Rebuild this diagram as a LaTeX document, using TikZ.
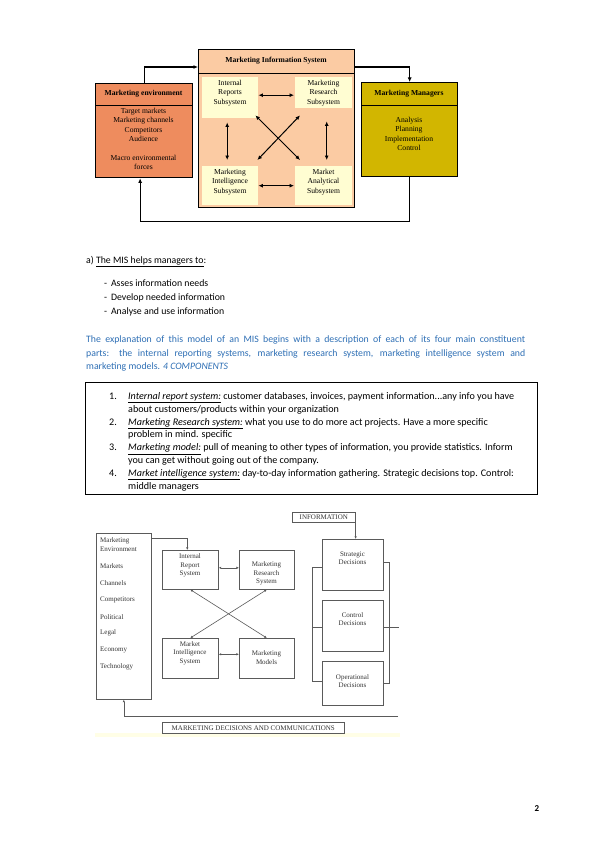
\documentclass[tikz,border=0pt]{standalone}
\usepackage{fontspec}
\setmainfont{Carlito}
\newfontfamily\tnr{Liberation Serif}
\usetikzlibrary{calc,arrows.meta,shadows}
\definecolor{misfill}{HTML}{FBCBA3}
\definecolor{subfill}{HTML}{FFFDD2}
\definecolor{envfill}{HTML}{EE8C5E}
\definecolor{mgrfill}{HTML}{D2B600}
\definecolor{blutxt}{HTML}{2E6FB5}
\definecolor{dgray}{HTML}{5A5A5A}
\tikzset{
 topbox/.style={draw=black, line width=1.3pt, inner sep=0pt, anchor=north west},
 subbox/.style={fill=subfill, draw=none, inner sep=0pt, anchor=north west},
 ttxt/.style={font=\tnr\fontsize{7.6}{9.4}\selectfont, align=center, inner sep=0pt},
 ttitle/.style={font=\tnr\bfseries\fontsize{7.6}{9}\selectfont, inner sep=0pt},
 sepline/.style={line width=0.8pt},
 tarrow/.style={-{Latex[length=4.5pt,width=4pt]}, line width=1.1pt},
 tdarrow/.style={{Latex[length=4.5pt,width=4pt]}-{Latex[length=4.5pt,width=4pt]}, line width=1pt},
 bbox/.style={draw=dgray, line width=0.6pt, fill=white, inner sep=0pt, anchor=north west,
   drop shadow={shadow xshift=1pt, shadow yshift=-1pt, fill=gray!70, opacity=0.6}},
 btxt/.style={font=\tnr\fontsize{7}{8.5}\selectfont, text=black!80, align=center, inner sep=0pt},
 bltxt/.style={font=\tnr\fontsize{7}{8.5}\selectfont, text=black!80, anchor=west, inner sep=0pt},
 bline/.style={draw=dgray, line width=0.6pt},
 barrow/.style={bline, -{Latex[length=2.6pt,width=2.4pt]}},
 bdarrow/.style={bline, {Latex[length=2.6pt,width=2.4pt]}-{Latex[length=2.6pt,width=2.4pt]}},
 body/.style={font=\fontsize{9.8}{12}\selectfont, anchor=base west, inner sep=0pt},
 lbody/.style={font=\fontsize{10.1}{12}\selectfont, anchor=base west, inner sep=0pt},
}
\begin{document}
\begin{tikzpicture}[x=1pt,y=-1pt]
\useasboundingbox[fill=white] (0,0) rectangle (600,848);

% ---------------- top diagram ----------------
\node[topbox, fill=misfill, minimum width=156pt, minimum height=158pt] (mis) at (198,49) {};
\draw[sepline] (mis.west |- 0,73) -- (mis.east |- 0,73);
\node[ttitle] (mistitle) at (276,61) {Marketing Information System};
\node[subbox, minimum width=56pt, minimum height=41pt] (int) at (202,77) {};
\node[subbox, minimum width=57pt, minimum height=31pt] (res) at (295,77) {};
\node[subbox, minimum width=56pt, minimum height=39pt] (intel) at (202,166) {};
\node[subbox, minimum width=57pt, minimum height=39pt] (ana) at (295,166) {};
\node[ttxt] (intt) at (230,93) {Internal\\Reports\\Subsystem};
\node[ttxt] (rest) at (323.5,93) {Marketing\\Research\\Subsystem};
\node[ttxt] (intelt) at (230,182) {Marketing\\Intelligence\\Subsystem};
\node[ttxt] (anat) at (323.5,182) {Market\\Analytical\\Subsystem};
\draw[tdarrow] ($(int.east)+(0,-2.5)$) -- ($(int.east -| res.west)+(-1,-2.5)$);
\draw[tdarrow] (intel.east) -- ($(intel.east -| ana.west)+(-1,0)$);
\draw[tdarrow] ($(int.south)+(-3,4)$) -- ($(intel.north)+(-3,-6)$);
\draw[tdarrow] ($(res.south)+(3,13)$) -- ($(ana.north)+(3,-6)$);
\draw[tdarrow] ($(int.south east)+(-3,-3)$) -- ($(ana.north west)+(5,-6)$);
\draw[tdarrow] ($(res.south west)+(5,7)$) -- ($(intel.north east)+(-1,-6)$);

\node[topbox, fill=envfill, minimum width=97pt, minimum height=94pt] (env) at (95,83) {};
\draw[sepline] (env.west |- 0,105) -- (env.east |- 0,105);
\node[ttitle] (envt) at (143.5,93.5) {Marketing environment};
\node[ttxt] (envb) at (143.5,139) {Target markets\\Marketing channels\\Competitors\\Audience\\[9.4pt]Macro environmental\\forces};

\node[topbox, fill=mgrfill, minimum width=96pt, minimum height=94pt] (mgr) at (361,82) {};
\draw[sepline] (mgr.west |- 0,105) -- (mgr.east |- 0,105);
\node[ttitle] (mgrt) at (409,93.5) {Marketing Managers};
\node[ttxt] (mgrb) at (409,134) {Analysis\\Planning\\Implementation\\Control};

\draw[tarrow] (env.north) |- ($(mis.north west)+(0,18)$);
\draw[tarrow] ($(mis.north east)+(0,18)$) -| (mgr.north);
\draw[tarrow] (mgr.south) -- ++(0,44) -| ($(env.south)+(-4,0)$);

% ---------------- text ----------------
\node[body] (la) at (86,263) {a) \underline{The MIS helps managers to}:};
\node[body] (b1) at (104,286) {-\, Asses information needs};
\node[body] (b2) at (104,300) {-\, Develop needed information};
\node[body] (b3) at (104,314) {-\, Analyse and use information};

\node[body, text=blutxt] (p1) at (86,342) {\makebox[439pt][s]{The explanation of this model of an MIS begins with a description of each of its four main constituent}};
\node[body, text=blutxt] (p2) at (86,356) {\makebox[439pt][s]{parts: the internal reporting systems, marketing research system, marketing intelligence system and}};
\node[body, text=blutxt] (p3) at (86,369.5) {marketing models. \textit{4 COMPONENTS}};

\node[draw=black, line width=1pt, anchor=north west, minimum width=452pt, minimum height=112pt, inner sep=0pt] (lbox) at (85,382) {};
\node[lbody] (n1) at (109,399.5) {1.};
\node[lbody] (t1) at (128,399.5) {\underline{\textit{Internal report system:}} customer databases, invoices, payment information...any info you have};
\node[lbody] (t1b) at (128,412.3) {about customers/products within your organization};
\node[lbody] (n2) at (109,425.1) {2.};
\node[lbody] (t2) at (128,425.1) {\underline{\textit{Marketing Research system:}} what you use to do more act projects. Have a more specific};
\node[lbody] (t2b) at (128,437.9) {problem in mind. specific};
\node[lbody] (n3) at (109,450.7) {3.};
\node[lbody] (t3) at (128,450.7) {\underline{\textit{Marketing model:}} pull of meaning to other types of information, you provide statistics. Inform};
\node[lbody] (t3b) at (128,463.5) {you can get without going out of the company.};
\node[lbody] (n4) at (109,476.3) {4.};
\node[lbody] (t4) at (128,476.3) {\underline{\textit{Market intelligence system:}} day-to-day information gathering. Strategic decisions top. Control:};
\node[lbody] (t4b) at (128,489.1) {middle managers};

% ---------------- bottom diagram ----------------
\fill[yellow!10] (95,733) rectangle (400,737);
\node[bbox, minimum width=55pt, minimum height=166pt] (lef) at (96,533) {};
\node[bbox, minimum width=56pt, minimum height=39pt] (irs) at (162,550) {};
\node[bbox, minimum width=55pt, minimum height=39pt] (mrs) at (239,550) {};
\node[bbox, minimum width=56pt, minimum height=40pt] (mis2) at (162,638) {};
\node[bbox, minimum width=55pt, minimum height=40pt] (mm) at (239,638) {};
\node[bbox, minimum width=61pt, minimum height=51pt] (sd) at (322,539) {};
\node[bbox, minimum width=61pt, minimum height=51pt] (cd) at (322,600) {};
\node[bbox, minimum width=61pt, minimum height=44pt] (od) at (322,661) {};
\node[bbox, minimum width=63pt, minimum height=10pt] (info) at (292,512) {};
\node[bbox, minimum width=182pt, minimum height=11pt] (mdc) at (162,722) {};

\node[btxt] (irst) at (190,565.5) {Internal\\Report\\System};
\node[btxt] (mrst) at (266.5,573.5) {Marketing\\Research\\System};
\node[btxt] (mis2t) at (190,653) {Market\\Intelligence\\System};
\node[btxt] (mmt) at (266.5,657.5) {Marketing\\Models};
\node[btxt] (sdt) at (352.5,558) {Strategic\\Decisions};
\node[btxt] (cdt) at (352.5,619) {Control\\Decisions};
\node[btxt] (odt) at (352.5,681) {Operational\\Decisions};
\node[btxt] (infot) at (info.center) {INFORMATION};
\node[btxt] (mdct) at (mdc.center) {MARKETING DECISIONS AND COMMUNICATIONS};

\node[bltxt] (e1) at (100,541) {Marketing};
\node[bltxt] (e2) at (100,549) {Environment};
\node[bltxt] (e3) at (100,566) {Markets};
\node[bltxt] (e4) at (100,583) {Channels};
\node[bltxt] (e5) at (100,600) {Competitors};
\node[bltxt] (e6) at (100,617) {Political};
\node[bltxt] (e7) at (100,633) {Legal};
\node[bltxt] (e8) at (100,650) {Economy};
\node[bltxt] (e9) at (100,667) {Technology};

\draw[bdarrow] ($(irs.east)+(0,-2)$) -- ($(irs.east -| mrs.west)+(0,-2)$);
\draw[bdarrow] ($(mis2.east)+(0,-4)$) -- ($(mis2.east -| mm.west)+(0,-4)$);
\draw[bdarrow] (irs.south) -- (mm.north);
\draw[bdarrow] (mrs.south) -- (mis2.north);
\draw[barrow] ($(lef.north east)+(0,5)$) -| ($(irs.north)+(-3,0)$);
\draw[barrow] (info.south east) -- (info.south east |- sd.north);
\draw[bline] ($(sd.west)+(0,2.5)$) -- ++(-10,0) |- ($(od.west)+(0,-2)$);
\draw[bline] ($(cd.west)+(0,1.5)$) -- ++(-10,0);
\draw[bline] ($(sd.east)+(0,-3)$) -- ++(6,0) |- (od.east);
\draw[bline] ($(cd.east)+(0,1.5)$) -- ++(15,0);
\coordinate (fb) at (398,716);
\draw[barrow] (fb) -| (lef.south);

\node[font=\bfseries\fontsize{9}{10}\selectfont, anchor=base, inner sep=0pt] (pg) at (537,811) {2};
\end{tikzpicture}
\end{document}
